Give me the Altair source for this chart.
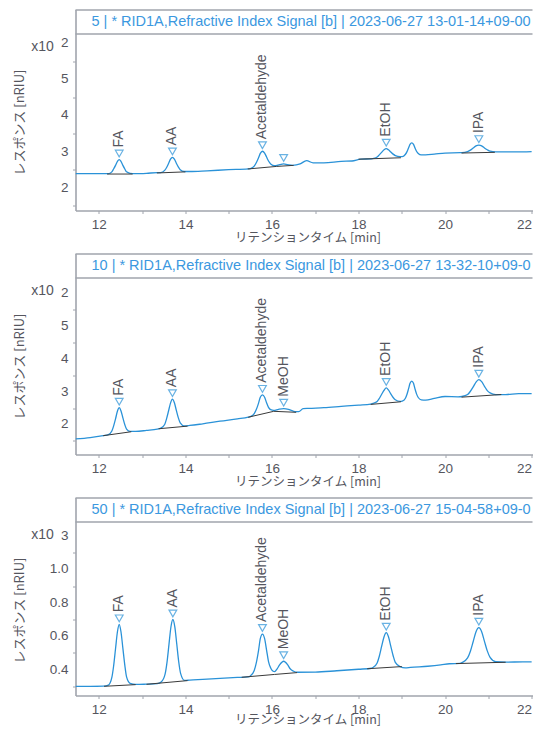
import altair as alt
import pandas as pd

# ---------------- text ----------------
panel_titles = [
    "5 | * RID1A,Refractive Index Signal [b] | 2023-06-27 13-01-14+09-00-00",
    "10 | * RID1A,Refractive Index Signal [b] | 2023-06-27 13-32-10+09-00-00",
    "50 | * RID1A,Refractive Index Signal [b] | 2023-06-27 15-04-58+09-00-00",
]
x_title = "リテンションタイム [min]"
y_title = "レスポンス [nRIU]"
x_ticks = [12, 13, 14, 15, 16, 17, 18, 19, 20, 21, 22]
x_domain = [11.46, 22.02]

# ---------------- panel 1 (x10^2 nRIU) ----------------
t1 = [11.46, 12.1, 12.22, 12.30, 12.34, 12.385, 12.43, 12.47, 12.51, 12.555, 12.60, 12.64, 12.72, 12.85,
      13.1, 13.35, 13.43, 13.52, 13.565, 13.61, 13.655, 13.70, 13.745, 13.79, 13.835, 13.88, 13.97, 14.1,
      14.5, 15.0, 15.45, 15.50, 15.59, 15.64, 15.69, 15.73, 15.78, 15.83, 15.875, 15.92, 15.97, 16.06,
      16.18, 16.27, 16.36, 16.48, 16.65, 16.8, 16.95, 17.2, 17.6, 17.85, 18.05, 18.3,
      18.35, 18.43, 18.48, 18.535, 18.59, 18.64, 18.69, 18.745, 18.80, 18.85, 18.96,
      19.01, 19.08, 19.12, 19.155, 19.19, 19.23, 19.27, 19.305, 19.34, 19.38, 19.45, 19.55,
      19.75, 20.0, 20.35, 20.39, 20.52, 20.585, 20.65, 20.715, 20.78, 20.845, 20.91, 20.975, 21.04, 21.17, 21.4,
      21.8, 22.0]
v1 = [2.39, 2.39, 2.39, 2.44, 2.52, 2.62, 2.73, 2.78, 2.73, 2.62, 2.52, 2.44, 2.40, 2.39,
      2.40, 2.42, 2.42, 2.48, 2.56, 2.67, 2.79, 2.84, 2.79, 2.68, 2.58, 2.50, 2.45, 2.45,
      2.47, 2.50, 2.52, 2.53, 2.60, 2.70, 2.83, 2.95, 3.01, 2.96, 2.85, 2.74, 2.66, 2.61,
      2.64, 2.66, 2.64, 2.62, 2.66, 2.75, 2.69, 2.69, 2.73, 2.74, 2.79, 2.80,
      2.81, 2.85, 2.91, 2.98, 3.05, 3.08, 3.05, 2.99, 2.93, 2.89, 2.86,
      2.86, 2.92, 3.00, 3.10, 3.20, 3.24, 3.20, 3.10, 3.01, 2.95, 2.91, 2.91,
      2.93, 2.96, 2.97, 2.97, 3.00, 3.04, 3.10, 3.16, 3.18, 3.16, 3.10, 3.05, 3.01, 2.99, 2.99,
      2.99, 3.00]
b1_t0 = [12.19, 13.34, 15.44, 16.10, 18.00, 20.38]
b1_v0 = [2.38, 2.41, 2.52, 2.59, 2.79, 2.96]
b1_t1 = [12.78, 14.00, 16.10, 16.50, 18.98, 21.15]
b1_v1 = [2.38, 2.44, 2.59, 2.62, 2.83, 2.98]
pk1_name = ["FA", "AA", "Acetaldehyde", "", "EtOH", "IPA"]
pk1_t = [12.47, 13.70, 15.78, 16.27, 18.64, 20.78]
pk1_v = [2.78, 2.84, 3.01, 2.66, 3.08, 3.18]

# ---------------- panel 2 (x10^2 nRIU) ----------------
t2 = [11.46, 11.8, 12.1, 12.22, 12.30, 12.34, 12.385, 12.43, 12.47, 12.51, 12.555, 12.60, 12.64, 12.72, 12.85,
      13.1, 13.35, 13.43, 13.52, 13.565, 13.61, 13.655, 13.70, 13.745, 13.79, 13.835, 13.88, 13.97, 14.1,
      14.4, 14.8, 15.2, 15.45, 15.50, 15.59, 15.64, 15.69, 15.73, 15.78, 15.83, 15.875, 15.92, 15.97, 16.04,
      16.15, 16.27, 16.38, 16.48, 16.56, 16.62, 16.72, 16.85, 17.2, 17.6, 18.0, 18.28,
      18.33, 18.43, 18.48, 18.535, 18.59, 18.64, 18.69, 18.745, 18.80, 18.85, 18.96,
      19.01, 19.08, 19.12, 19.155, 19.19, 19.23, 19.27, 19.305, 19.34, 19.38, 19.45, 19.55,
      19.75, 20.0, 20.3, 20.39, 20.52, 20.585, 20.65, 20.715, 20.78, 20.845, 20.91, 20.975, 21.04, 21.17, 21.4,
      21.7, 22.0]
v2 = [1.56, 1.60, 1.66, 1.69, 1.80, 1.95, 2.17, 2.41, 2.51, 2.42, 2.20, 1.99, 1.86, 1.79, 1.79,
      1.82, 1.86, 1.89, 2.00, 2.18, 2.41, 2.65, 2.77, 2.66, 2.43, 2.21, 2.05, 1.96, 1.97,
      2.02, 2.10, 2.17, 2.22, 2.24, 2.33, 2.46, 2.65, 2.83, 2.90, 2.83, 2.66, 2.52, 2.45, 2.43,
      2.46, 2.48, 2.46, 2.41, 2.39, 2.39, 2.48, 2.49, 2.51, 2.55, 2.59, 2.62,
      2.64, 2.70, 2.79, 2.92, 3.04, 3.11, 3.05, 2.93, 2.82, 2.75, 2.70,
      2.71, 2.79, 2.92, 3.08, 3.25, 3.32, 3.25, 3.08, 2.93, 2.82, 2.75, 2.74,
      2.79, 2.85, 2.84, 2.85, 2.91, 3.01, 3.14, 3.29, 3.36, 3.30, 3.16, 3.03, 2.96, 2.91, 2.91,
      2.94, 2.94]
b2_t0 = [12.10, 13.38, 15.45, 16.04, 18.28, 20.38]
b2_v0 = [1.66, 1.87, 2.22, 2.40, 2.61, 2.83]
b2_t1 = [12.75, 14.05, 16.04, 16.56, 18.98, 21.30]
b2_v1 = [1.78, 1.95, 2.40, 2.37, 2.69, 2.91]
pk2_name = ["FA", "AA", "Acetaldehyde", "MeOH", "EtOH", "IPA"]
pk2_t = [12.47, 13.70, 15.78, 16.27, 18.64, 20.78]
pk2_v = [2.51, 2.77, 2.90, 2.48, 3.11, 3.36]

# ---------------- panel 3 (x10^3 nRIU) ----------------
t3 = [11.46, 11.8, 12.1, 12.22, 12.30, 12.34, 12.385, 12.43, 12.47, 12.51, 12.555, 12.60, 12.64, 12.72, 12.85,
      13.1, 13.35, 13.44, 13.53, 13.575, 13.62, 13.665, 13.71, 13.755, 13.80, 13.845, 13.89, 13.98, 14.1,
      14.4, 14.8, 15.2, 15.45, 15.50, 15.59, 15.64, 15.69, 15.73, 15.78, 15.83, 15.875, 15.92, 15.97, 16.02, 16.06,
      16.12, 16.18, 16.27, 16.36, 16.42, 16.50, 16.58, 17.0, 17.5, 18.0, 18.3,
      18.33, 18.43, 18.48, 18.535, 18.59, 18.64, 18.69, 18.745, 18.80, 18.85, 18.96, 19.08, 19.2,
      19.6, 19.9, 20.1, 20.35, 20.39, 20.52, 20.585, 20.65, 20.715, 20.78, 20.845, 20.91, 20.975, 21.04, 21.17, 21.4,
      21.8, 22.0]
v3 = [0.300, 0.300, 0.301, 0.307, 0.353, 0.420, 0.525, 0.628, 0.671, 0.628, 0.527, 0.425, 0.356, 0.318, 0.311,
      0.313, 0.316, 0.326, 0.373, 0.445, 0.551, 0.655, 0.700, 0.656, 0.553, 0.447, 0.376, 0.335, 0.337,
      0.342, 0.347, 0.353, 0.357, 0.362, 0.395, 0.443, 0.515, 0.585, 0.613, 0.585, 0.517, 0.448, 0.410, 0.392, 0.388,
      0.405, 0.430, 0.450, 0.430, 0.405, 0.390, 0.384, 0.385, 0.393, 0.402, 0.408,
      0.412, 0.440, 0.480, 0.540, 0.597, 0.621, 0.598, 0.541, 0.483, 0.443, 0.418, 0.410, 0.413,
      0.420, 0.428, 0.435, 0.437, 0.442, 0.470, 0.510, 0.568, 0.627, 0.651, 0.627, 0.569, 0.512, 0.473, 0.447, 0.445,
      0.446, 0.446]
b3_t0 = [12.12, 13.10, 15.30, 16.06, 18.20, 20.25]
b3_v0 = [0.300, 0.312, 0.354, 0.371, 0.405, 0.436]
b3_t1 = [12.85, 14.05, 16.06, 16.58, 19.00, 21.40]
b3_v1 = [0.310, 0.334, 0.371, 0.382, 0.418, 0.444]
pk3_name = ["FA", "AA", "Acetaldehyde", "MeOH", "EtOH", "IPA"]
pk3_t = [12.47, 13.71, 15.78, 16.27, 18.64, 20.78]
pk3_v = [0.671, 0.700, 0.613, 0.450, 0.621, 0.651]

# ---------------- y axes ----------------
y1_domain = [1.373, 6.925]
y2_domain = [1.088, 7.195]
y3_domain = [0.2449, 1.4305]
y12_ticks = [1.5, 2, 2.5, 3, 3.5, 4, 4.5, 5, 5.5, 6]
y3_ticks = [0.3, 0.4, 0.5, 0.6, 0.7, 0.8, 0.9, 1.0, 1.1, 1.2]
y12_lab_v = [2, 3, 4, 5, 6]
y12_lab_s = ["2", "3", "4", "5", "2"]
y3_lab_v = [0.4, 0.6, 0.8, 1.0, 1.2]
y3_lab_s = ["0.4", "0.6", "0.8", "1.0", "3"]

# ---------------- style ----------------
W = 457
BLUE = "#2a92d8"
TITLE_BLUE = "#3b98e0"
FRAME = "#a0a4ad"
GREY = "#55565e"
FONT = "Liberation Sans, Noto Sans CJK JP, sans-serif"
JP = "Noto Sans CJK JP, sans-serif"


def panel(title, t, v, bt0, bv0, bt1, bv1, pn, pt, pv, ydom, yvals, ylv, yls, xtitle_y, H):
    trace = pd.DataFrame({"t": t, "v": v})
    base = pd.DataFrame({"t0": bt0, "v0": bv0, "t1": bt1, "v1": bv1})
    peaks = pd.DataFrame({"name": pn, "t": pt, "v": pv})
    ylab = pd.DataFrame({"v": ylv, "s": yls})
    one = pd.DataFrame({"title": [title]})

    xs = alt.Scale(domain=x_domain, nice=False, zero=False)
    ys = alt.Scale(domain=ydom, nice=False, zero=False)
    xax = alt.Axis(values=x_ticks, labelExpr="datum.value % 2 == 0 ? datum.label : ''",
                   title=x_title, grid=False, tickSize=3, labelPadding=4,
                   labelOverlap=False, labelFlush=3,
                   titleFont=JP, titleFontSize=12.5, titleY=xtitle_y, titleX=232,
                   titleBaseline="middle", titleAlign="center")
    yax = alt.Axis(values=yvals, labels=False, title=y_title, grid=False,
                   tickSize=3, titleFont=JP, titleFontSize=13,
                   titleX=-56, titleY=112.5, titleAngle=270,
                   titleBaseline="middle", titleAlign="center")

    line = alt.Chart(trace).mark_line(
        interpolate="monotone", color=BLUE, strokeWidth=1.3, clip=True
    ).encode(x=alt.X("t:Q", scale=xs, axis=xax), y=alt.Y("v:Q", scale=ys, axis=yax))

    bl = alt.Chart(base).mark_rule(color="#3a3a3a", strokeWidth=1, clip=True).encode(
        x="t0:Q", x2="t1:Q", y="v0:Q", y2="v1:Q")

    mk = alt.Chart(peaks).mark_point(
        shape="triangle-down", size=60, filled=False, color=BLUE, strokeWidth=1.2, yOffset=-6
    ).encode(x="t:Q", y="v:Q")

    lb = alt.Chart(peaks).mark_text(
        angle=270, align="left", baseline="middle", yOffset=-12, fontSize=14,
        color=GREY, font=FONT
    ).encode(x="t:Q", y="v:Q", text="name:N")

    yl = alt.Chart(ylab).mark_text(
        align="right", baseline="middle", fontSize=13.5, color=GREY, font=FONT
    ).encode(x=alt.value(-7), y="v:Q", text="s:N")

    top = alt.Chart(one).mark_rule(color=FRAME, strokeWidth=1.6).encode(
        x=alt.value(0), x2=alt.value(W), y=alt.value(0.5))
    div = alt.Chart(one).mark_rule(color=FRAME, strokeWidth=1.6).encode(
        x=alt.value(0), x2=alt.value(W), y=alt.value(24.5))
    ttl = alt.Chart(one).mark_text(
        align="left", baseline="middle", fontSize=14.5, color=TITLE_BLUE, font=FONT,
        limit=W - 17, ellipsis="\u200b"
    ).encode(x=alt.value(16), y=alt.value(12.5), text="title:N")
    x10 = alt.Chart(one).mark_text(
        align="center", baseline="middle", fontSize=14, color=GREY, font=FONT
    ).encode(x=alt.value(-33), y=alt.value(37), text=alt.value("x10"))

    return alt.layer(line, bl, mk, lb, yl, top, div, ttl, x10).properties(width=W, height=H)


p1 = panel(panel_titles[0], t1, v1, b1_t0, b1_v0, b1_t1, b1_v1, pk1_name, pk1_t, pk1_v,
           y1_domain, y12_ticks, y12_lab_v, y12_lab_s, 27, 201)
p2 = panel(panel_titles[1], t2, v2, b2_t0, b2_v0, b2_t1, b2_v1, pk2_name, pk2_t, pk2_v,
           y2_domain, y12_ticks, y12_lab_v, y12_lab_s, 27, 201)
p3 = panel(panel_titles[2], t3, v3, b3_t0, b3_v0, b3_t1, b3_v1, pk3_name, pk3_t, pk3_v,
           y3_domain, y3_ticks, y3_lab_v, y3_lab_s, 23.5, 198)

chart = alt.vconcat(p1, p2, p3, spacing=8).properties(
    padding={"left": 5.5, "top": 0.5, "right": 0, "bottom": 0}
).configure_view(strokeWidth=0).configure_axis(
    domainColor=FRAME, domainWidth=1.6, tickColor=FRAME, labelColor=GREY,
    labelFont=FONT, labelFontSize=13.5, titleColor=GREY, titleFontWeight="normal"
)

chart.save("out.html", embed_options={"renderer": "svg", "actions": False})
